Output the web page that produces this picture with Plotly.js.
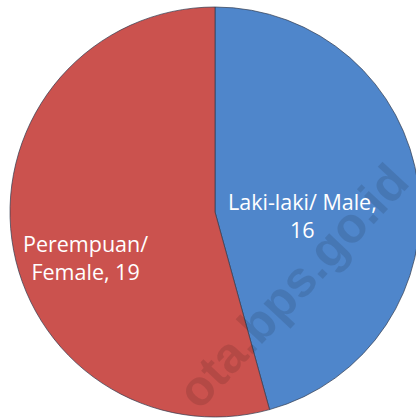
<!DOCTYPE html>
<html>
<head>
<meta charset="utf-8">
<script src="https://cdn.plot.ly/plotly-3.0.1.min.js"></script>
<style>
  html, body { margin: 0; padding: 0; overflow: hidden; background: #fff; }
</style>
</head>
<body>
<div id="plot"></div>
<script>
// jumlah menurut jenis kelamin
let labels = ['Laki-laki/ Male', 'Perempuan/ Female'];
let values = [16, 19];
let textLines = ['Laki-laki/ Male,<br>', 'Perempuan/<br>Female, '];
let colors = ['#4f86cb', '#cb524e'];

// where the data labels sit (paper coords), Excel-style manual placement
let labelX = [0.713, 0.185];
let labelY = [0.491, 0.389];

let trace = {
    type: 'pie',
    labels: labels,
    values: values,
    textinfo: 'none',
    hoverinfo: 'label+value',
    sort: false,
    direction: 'clockwise',
    rotation: 0,
    marker: {
        colors: colors,
        line: { color: 'rgba(50,60,80,0.7)', width: 1 }
    }
};

let dataLabels = labels.map((lab, i) => ({
    text: textLines[i] + values[i],
    xref: 'paper', yref: 'paper',
    x: labelX[i], y: labelY[i],
    xanchor: 'center', yanchor: 'middle',
    showarrow: false,
    font: { family: 'Open Sans, sans-serif', size: 21.5, color: '#ffffff' }
}));

let layout = {
    width: 420,
    height: 420,
    margin: { l: 10, r: 0, t: 7, b: 3 },
    showlegend: false,
    paper_bgcolor: '#ffffff',
    annotations: [{
        text: '<b>ota.bps.go.id</b>',
        xref: 'paper', yref: 'paper',
        x: 0.69, y: 0.32,
        xanchor: 'center', yanchor: 'middle',
        showarrow: false,
        textangle: -47,
        font: { family: 'Liberation Sans, Arial, sans-serif', size: 50, color: 'rgba(0,0,0,0.11)' }
    }].concat(dataLabels)
};

Plotly.newPlot('plot', [trace], layout, { displayModeBar: false, staticPlot: true });
</script>
</body>
</html>
